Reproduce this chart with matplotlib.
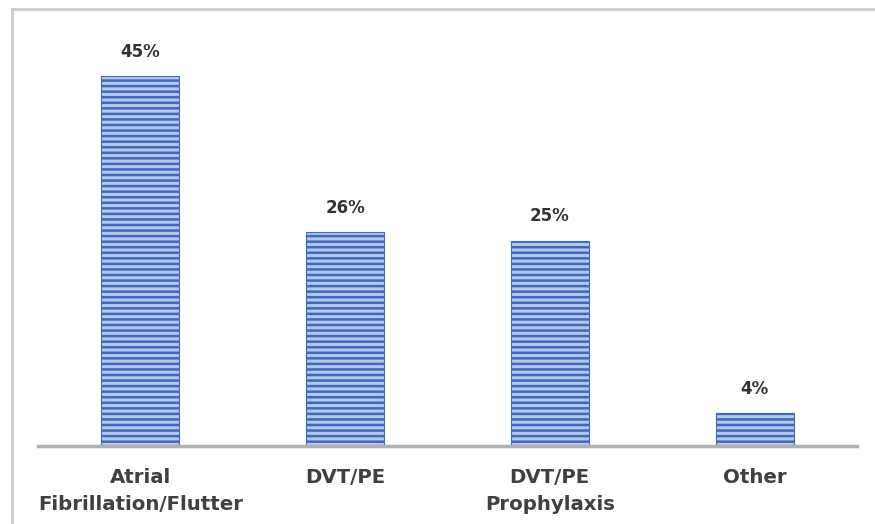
import matplotlib.pyplot as plt
from matplotlib.lines import Line2D

categories = ['Atrial\nFibrillation/Flutter', 'DVT/PE', 'DVT/PE\nProphylaxis', 'Other']
values = [45, 26, 25, 4]
labels = ['45%', '26%', '25%', '4%']

plt.rcParams['hatch.linewidth'] = 1.8
plt.rcParams['font.family'] = ['DejaVu Sans']

fig = plt.figure(figsize=(8.75, 5.24), dpi=100)
ax = fig.add_axes([0.0434, 0.1489, 0.936, 0.784])

x = range(len(categories))
bars = ax.bar(x, values, width=0.38, color='#b4c7ee', edgecolor='#4169b8',
              hatch='---', linewidth=0.8)
for b, t in zip(bars, labels):
    ax.text(b.get_x() + b.get_width() / 2, b.get_height() + 1.9, t,
            ha='center', va='bottom', fontsize=12, fontweight='bold', color='#333333')

ax.set_xlim(-0.5, 3.5)
ax.set_ylim(0, 50)
ax.set_yticks([])
ax.set_xticks(list(x))
ax.set_xticklabels(categories, fontsize=14.2, fontweight='bold', color='#404040',
                   linespacing=1.5)
ax.tick_params(axis='x', length=0, pad=16)
for lbl in ax.get_xticklabels():
    lbl.set_verticalalignment('top')
for s in ['top', 'right', 'left']:
    ax.spines[s].set_visible(False)
ax.spines['bottom'].set_color('#b0b0b0')
ax.spines['bottom'].set_linewidth(2.5)

# outer frame (top and left only)
fig.add_artist(Line2D([12 / 875, 1], [1 - 9 / 524, 1 - 9 / 524], color='#cccccc', lw=2,
                      transform=fig.transFigure))
fig.add_artist(Line2D([12 / 875, 12 / 875], [0, 1 - 9 / 524], color='#cccccc', lw=2,
                      transform=fig.transFigure))

fig.savefig('out.png', dpi=100)
